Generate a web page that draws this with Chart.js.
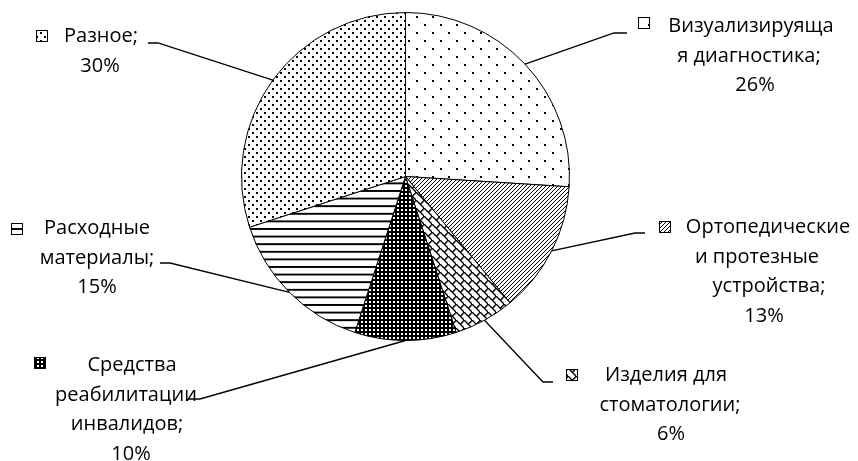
<!DOCTYPE html>
<html lang="ru">
<head>
<meta charset="utf-8">
<script src="https://cdn.jsdelivr.net/npm/chart.js@4/dist/chart.umd.min.js"></script>
<style>
  html, body { margin: 0; padding: 0; background: #fff; }
  canvas { display: block; }
</style>
</head>
<body>
<canvas id="marketChart" width="858" height="461"></canvas>
<script>
const categories = [
  "Визуализируящая диагностика",
  "Ортопедические и протезные устройства",
  "Изделия для стоматологии",
  "Средства реабилитации инвалидов",
  "Расходные материалы",
  "Разное"
];
const shares = [26, 13, 6, 10, 15, 30];

// how each label wraps in the original picture
const labelLines = [
  ["Визуализируяща", "я диагностика;"],
  ["Ортопедические", "и протезные", "устройства;"],
  ["Изделия для", "стоматологии;"],
  ["Средства", "реабилитации", "инвалидов;"],
  ["Расходные", "материалы;"],
  ["Разное;"]
];

// label placement: centre x of every line, first baseline, legend box, leader elbow and end
const labelLayout = [
  { cx: [751, 749, 755], y: 32, box: [638, 17], elbow: [614, 33], end: [627, 33] },
  { cx: [768, 757, 769, 764], y: 233, box: [659, 221], elbow: [635, 233], end: [645, 233] },
  { cx: [666, 670, 671], y: 381, box: [566, 369], elbow: [543, 382], end: [553, 382] },
  { cx: [132, 126, 127, 131], y: 371, box: [34, 357], elbow: [200, 399], end: [188, 399] },
  { cx: [97, 97, 97], y: 234, box: [11, 223], elbow: [170, 263], end: [160, 263] },
  { cx: [101, 100], y: 42, box: [36, 30], elbow: [158, 43], end: [148, 43] }
];
const lineGap = 29.5;
const labelFont = "20px 'Open Sans'";
const boxSize = 11;

const canvas = document.getElementById("marketChart");
const ctx = canvas.getContext("2d");

function tile(w, h, draw) {
  const c = document.createElement("canvas");
  c.width = w;
  c.height = h;
  const g = c.getContext("2d");
  g.fillStyle = "#fff";
  g.fillRect(0, 0, w, h);
  g.fillStyle = "#000";
  draw(g);
  return ctx.createPattern(c, "repeat");
}

const patterns = [
  // sparse dots
  tile(16, 16, g => { g.fillRect(0, 0, 2, 2); g.fillRect(8, 8, 2, 2); }),
  // thin upward diagonals
  tile(4, 4, g => { for (let i = 0; i < 4; i++) g.fillRect(3 - i, i, 1, 1); }),
  // diagonal brick
  tile(8, 8, g => {
    for (let i = 0; i < 8; i++) g.fillRect(i, i, 1.5, 1.5);
    for (let i = 0; i < 4; i++) g.fillRect(7 - i, i, 1.5, 1.5);
  }),
  // dark grid with white holes
  tile(4, 4, g => { g.fillRect(0, 0, 4, 4); g.fillStyle = "#fff"; g.fillRect(1, 1, 2, 2); }),
  // horizontal bars
  tile(8, 8, g => { g.fillRect(0, 0, 8, 2); }),
  // dense dots
  tile(8, 8, g => { g.fillRect(0, 0, 2, 2); g.fillRect(4, 4, 2, 2); })
];
patterns[4].setTransform(new DOMMatrix().scale(1, 0.95));

const pieLabels = {
  id: "pieLabels",
  afterDraw(chart) {
    const c = chart.ctx;
    const arcs = chart.getDatasetMeta(0).data;
    c.save();
    c.font = labelFont;
    c.fillStyle = "#000";
    c.textAlign = "center";
    c.textBaseline = "alphabetic";
    arcs.forEach((arc, i) => {
      const lay = labelLayout[i];
      const lines = labelLines[i].concat([shares[i] + "%"]);
      lines.forEach((t, k) => c.fillText(t, lay.cx[k], lay.y + k * lineGap));

      // legend key
      c.fillStyle = patterns[i];
      c.fillRect(lay.box[0], lay.box[1], boxSize, boxSize);
      c.strokeStyle = "#000";
      c.lineWidth = 1;
      c.strokeRect(lay.box[0] + 0.5, lay.box[1] + 0.5, boxSize, boxSize);
      c.fillStyle = "#000";

      // leader line from the slice edge
      const p = arc.getProps(["x", "y", "startAngle", "endAngle", "outerRadius"], true);
      const mid = (p.startAngle + p.endAngle) / 2;
      c.beginPath();
      c.moveTo(p.x + Math.cos(mid) * p.outerRadius, p.y + Math.sin(mid) * p.outerRadius);
      c.lineTo(lay.elbow[0], lay.elbow[1]);
      c.lineTo(lay.end[0], lay.end[1]);
      c.lineWidth = 1.3;
      c.stroke();
    });
    c.restore();
  }
};

new Chart(ctx, {
  type: "pie",
  data: {
    labels: categories,
    datasets: [{
      data: shares,
      backgroundColor: patterns,
      borderColor: "#000",
      borderWidth: 1
    }]
  },
  options: {
    responsive: false,
    animation: false,
    layout: { padding: { left: 241, right: 288, top: 12, bottom: 120 } },
    plugins: {
      legend: { display: false },
      tooltip: { enabled: false }
    }
  },
  plugins: [pieLabels]
});
</script>
</body>
</html>
